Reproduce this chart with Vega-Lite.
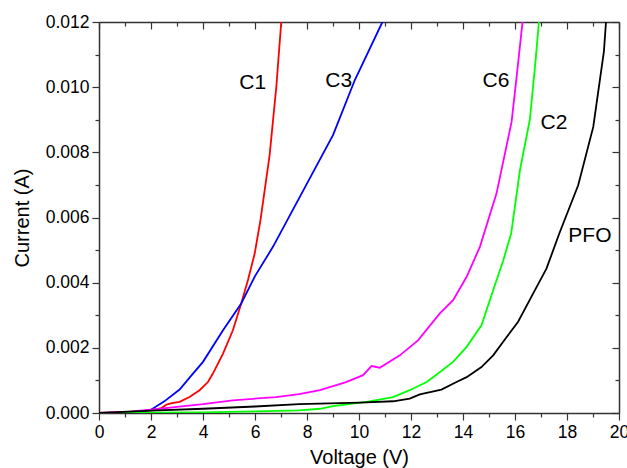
{
  "$schema": "https://vega.github.io/schema/vega-lite/v6.json",
  "autosize": {"type": "none"},
  "width": 520,
  "height": 391,
  "padding": {"left": 99, "top": 22, "right": 8, "bottom": 55},
  "background": "white",
  "config": {
    "view": {"stroke": null},
    "font": "Liberation Sans",
    "axis": {"grid": false, "domainColor": "#333", "domainWidth": 1.5, "tickColor": "#333", "tickWidth": 1.2, "labelFont": "Liberation Sans", "titleFont": "Liberation Sans", "labelColor": "black", "titleColor": "black", "labelFontSize": 17.5, "titleFontSize": 20, "titleFontWeight": "normal"}
  },
  "datasets": {
    "curves": [
      {"s": "C1", "v": 0, "i": 0}, {"s": "C1", "v": 1, "i": 0.00002}, {"s": "C1", "v": 2, "i": 0.00008}, {"s": "C1", "v": 2.4, "i": 0.00015}, {"s": "C1", "v": 2.6, "i": 0.00026}, {"s": "C1", "v": 2.8, "i": 0.0003}, {"s": "C1", "v": 3.1, "i": 0.00034}, {"s": "C1", "v": 3.48, "i": 0.00049}, {"s": "C1", "v": 3.87, "i": 0.0007}, {"s": "C1", "v": 4.19, "i": 0.00095}, {"s": "C1", "v": 4.38, "i": 0.00121}, {"s": "C1", "v": 4.77, "i": 0.00182}, {"s": "C1", "v": 5.15, "i": 0.00254}, {"s": "C1", "v": 5.47, "i": 0.00336}, {"s": "C1", "v": 5.73, "i": 0.00408}, {"s": "C1", "v": 5.99, "i": 0.0049}, {"s": "C1", "v": 6.21, "i": 0.00592}, {"s": "C1", "v": 6.56, "i": 0.0079}, {"s": "C1", "v": 6.82, "i": 0.01001}, {"s": "C1", "v": 7.01, "i": 0.012},
      {"s": "C3", "v": 0, "i": 0}, {"s": "C3", "v": 1, "i": 0.00001}, {"s": "C3", "v": 1.5, "i": 0.00003}, {"s": "C3", "v": 2, "i": 0.0001}, {"s": "C3", "v": 2.5, "i": 0.00035}, {"s": "C3", "v": 3.1, "i": 0.00072}, {"s": "C3", "v": 3.5, "i": 0.0011}, {"s": "C3", "v": 4, "i": 0.00157}, {"s": "C3", "v": 4.77, "i": 0.00254}, {"s": "C3", "v": 5.47, "i": 0.00336}, {"s": "C3", "v": 6.0, "i": 0.0042}, {"s": "C3", "v": 6.69, "i": 0.0051}, {"s": "C3", "v": 9.0, "i": 0.00853}, {"s": "C3", "v": 9.84, "i": 0.01022}, {"s": "C3", "v": 10.9, "i": 0.012},
      {"s": "C6", "v": 0, "i": 0}, {"s": "C6", "v": 1, "i": 0.00003}, {"s": "C6", "v": 2, "i": 0.0001}, {"s": "C6", "v": 3, "i": 0.00019}, {"s": "C6", "v": 4, "i": 0.00027}, {"s": "C6", "v": 5.15, "i": 0.00039}, {"s": "C6", "v": 6.8, "i": 0.00049}, {"s": "C6", "v": 7.7, "i": 0.00058}, {"s": "C6", "v": 8.5, "i": 0.0007}, {"s": "C6", "v": 9.5, "i": 0.00095}, {"s": "C6", "v": 10.16, "i": 0.00116}, {"s": "C6", "v": 10.48, "i": 0.00144}, {"s": "C6", "v": 10.8, "i": 0.00139}, {"s": "C6", "v": 11.57, "i": 0.00177}, {"s": "C6", "v": 12.27, "i": 0.00223}, {"s": "C6", "v": 13.1, "i": 0.00305}, {"s": "C6", "v": 13.62, "i": 0.00346}, {"s": "C6", "v": 14.14, "i": 0.00418}, {"s": "C6", "v": 14.65, "i": 0.0051}, {"s": "C6", "v": 15.29, "i": 0.00674}, {"s": "C6", "v": 15.87, "i": 0.00894}, {"s": "C6", "v": 16.06, "i": 0.0103}, {"s": "C6", "v": 16.29, "i": 0.012},
      {"s": "C2", "v": 0, "i": 0}, {"s": "C2", "v": 2, "i": 0.00001}, {"s": "C2", "v": 4, "i": 0.00002}, {"s": "C2", "v": 6, "i": 0.00005}, {"s": "C2", "v": 7.7, "i": 0.00008}, {"s": "C2", "v": 8.5, "i": 0.00013}, {"s": "C2", "v": 9, "i": 0.00021}, {"s": "C2", "v": 10.29, "i": 0.00034}, {"s": "C2", "v": 11.31, "i": 0.00049}, {"s": "C2", "v": 11.95, "i": 0.0007}, {"s": "C2", "v": 12.6, "i": 0.00095}, {"s": "C2", "v": 12.85, "i": 0.0011}, {"s": "C2", "v": 13.62, "i": 0.00157}, {"s": "C2", "v": 14.14, "i": 0.00203}, {"s": "C2", "v": 14.71, "i": 0.00269}, {"s": "C2", "v": 15.16, "i": 0.00377}, {"s": "C2", "v": 15.55, "i": 0.00469}, {"s": "C2", "v": 15.85, "i": 0.0055}, {"s": "C2", "v": 16.19, "i": 0.00745}, {"s": "C2", "v": 16.57, "i": 0.009}, {"s": "C2", "v": 16.77, "i": 0.01063}, {"s": "C2", "v": 16.92, "i": 0.012},
      {"s": "PFO", "v": 0, "i": 0}, {"s": "PFO", "v": 2, "i": 0.00007}, {"s": "PFO", "v": 4, "i": 0.00013}, {"s": "PFO", "v": 6, "i": 0.0002}, {"s": "PFO", "v": 7.7, "i": 0.00027}, {"s": "PFO", "v": 10.03, "i": 0.00032}, {"s": "PFO", "v": 11.31, "i": 0.00036}, {"s": "PFO", "v": 11.95, "i": 0.00044}, {"s": "PFO", "v": 12.34, "i": 0.00057}, {"s": "PFO", "v": 13.17, "i": 0.00072}, {"s": "PFO", "v": 13.75, "i": 0.00095}, {"s": "PFO", "v": 14.14, "i": 0.0011}, {"s": "PFO", "v": 14.71, "i": 0.00141}, {"s": "PFO", "v": 15.16, "i": 0.00177}, {"s": "PFO", "v": 15.68, "i": 0.00233}, {"s": "PFO", "v": 16.12, "i": 0.0028}, {"s": "PFO", "v": 16.7, "i": 0.00367}, {"s": "PFO", "v": 17.21, "i": 0.00443}, {"s": "PFO", "v": 17.7, "i": 0.0055}, {"s": "PFO", "v": 18.43, "i": 0.00699}, {"s": "PFO", "v": 19.01, "i": 0.00878}, {"s": "PFO", "v": 19.42, "i": 0.0111}, {"s": "PFO", "v": 19.5, "i": 0.012}
    ],
    "labels": [
      {"t": "C1", "v": 5.91, "i": 0.01013},
      {"t": "C3", "v": 9.22, "i": 0.01019},
      {"t": "C6", "v": 15.27, "i": 0.01019},
      {"t": "C2", "v": 17.5, "i": 0.0089},
      {"t": "PFO", "v": 18.88, "i": 0.00543}
    ]
  },
  "resolve": {"axis": {"x": "independent", "y": "independent"}},
  "layer": [
    {
      "data": {"name": "curves"},
      "mark": {"type": "line", "strokeWidth": 1.8, "clip": true},
      "encoding": {
        "x": {"field": "v", "type": "quantitative", "scale": {"domain": [0, 20], "nice": false, "zero": false},
          "axis": {"title": "Voltage (V)", "orient": "bottom", "values": [0,1,2,3,4,5,6,7,8,9,10,11,12,13,14,15,16,17,18,19,20],
            "labelExpr": "datum.value % 2 === 0 ? datum.label : ''",
            "tickSize": {"condition": {"test": "datum.value % 2 === 0", "value": 7}, "value": 4},
            "labelPadding": 3, "titlePadding": 7, "labelFlush": false, "labelOverlap": false}},
        "y": {"field": "i", "type": "quantitative", "scale": {"domain": [0, 0.012], "nice": false},
          "axis": {"title": "Current (A)", "orient": "left", "values": [0,0.001,0.002,0.003,0.004,0.005,0.006,0.007,0.008,0.009,0.01,0.011,0.012],
            "format": ".3f",
            "labelExpr": "round(datum.value*1000) % 2 === 0 ? datum.label : ''",
            "tickSize": {"condition": {"test": "round(datum.value*1000) % 2 === 0", "value": 7}, "value": 4},
            "labelPadding": 3, "titlePadding": 13, "labelFlush": false, "labelOverlap": false}},
        "color": {"field": "s", "type": "nominal", "scale": {"domain": ["C1", "C3", "C6", "C2", "PFO"], "range": ["#ff0000", "#0000ff", "#ff00ff", "#00ff00", "#000000"]}, "legend": null},
        "detail": {"field": "s"}
      }
    },
    {
      "data": {"name": "labels"},
      "mark": {"type": "text", "fontSize": 21, "font": "Liberation Sans", "color": "black", "align": "center", "baseline": "middle"},
      "encoding": {
        "x": {"field": "v", "type": "quantitative",
          "axis": {"title": null, "orient": "top", "values": [0,1,2,3,4,5,6,7,8,9,10,11,12,13,14,15,16,17,18,19,20], "labels": false,
            "tickSize": {"condition": {"test": "datum.value % 2 === 0", "value": -7}, "value": -4}}},
        "y": {"field": "i", "type": "quantitative",
          "axis": {"title": null, "orient": "right", "values": [0,0.001,0.002,0.003,0.004,0.005,0.006,0.007,0.008,0.009,0.01,0.011,0.012], "labels": false,
            "tickSize": {"condition": {"test": "round(datum.value*1000) % 2 === 0", "value": -7}, "value": -4}}},
        "text": {"field": "t"}
      }
    }
  ]
}
